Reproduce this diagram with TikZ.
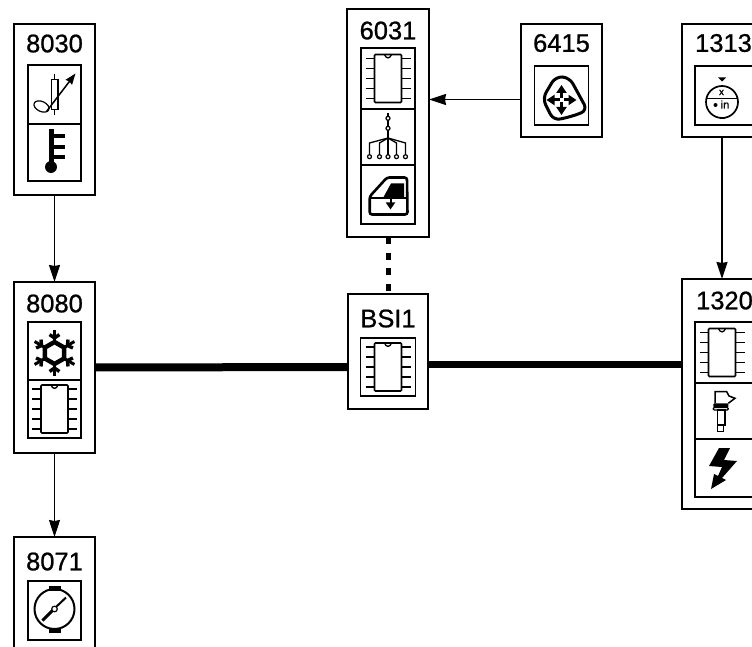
\documentclass[tikz,border=0pt]{standalone}
\usepackage{fontspec}
\setmainfont{Liberation Sans}
\newfontfamily\titlefont[FakeBold=0.8]{Liberation Sans}
\usetikzlibrary{positioning,arrows.meta,calc}
\tikzset{
    unitbox/.style={draw,line width=1.6pt,inner sep=0pt,outer sep=0pt,fill=white},
    unittitle/.style={font=\titlefont\fontsize{25.5}{25.5}\selectfont,inner sep=0pt,outer sep=0pt},
    iconcell/.style={draw,line width=1.5pt,inner sep=0pt,outer sep=0pt,minimum width=53pt},
    sigline/.style={line width=1.4pt,-{Stealth[length=17pt,width=11pt,inset=1pt]}},
    busline/.style={line width=8pt},
    chip/.pic={
        \draw[line width=1.6pt,rounded corners=1pt] (-13.5,-24) rectangle (13.5,24);
        \draw[line width=1.3pt] (-3.5,-24) .. controls (-2,-19.5) and (2,-19.5) .. (3.5,-24);
        \foreach \py in {-20,-10,0,10,20} {
            \draw[line width=1.3pt] (-22.5,\py) -- (-13.5,\py);
            \draw[line width=1.3pt] (13.5,\py) -- (22.5,\py);
        }
    },
    potsensor/.pic={
        \draw[line width=1.3pt] (-3,-15) rectangle (3.5,15);
        \draw[line width=1.5pt] (0,-20) -- (0,-15) (0,15) -- (0,21);
        \draw[line width=1.2pt,rotate around={-25:(-13,12)}] (-13,12) ellipse (8 and 5);
        \draw[line width=1.5pt,-{Stealth[length=11pt,width=8pt,inset=1pt]}] (-8,17) -- (21,-21);
    },
    thermo/.pic={
        \fill (-5.5,-23.5) rectangle (-0.5,14);
        \fill (-3.5,14.5) circle (6pt);
        \foreach \py in {-16.5,-5.5,4.5} {
            \fill (-1,\py-1.8) rectangle (10.5,\py+1.8);
        }
    },
    snowflake/.pic={
        \draw[line width=4.5pt,shift={(0,2)}] (90:11pt) -- (150:11pt) -- (210:11pt) -- (270:11pt) -- (330:11pt) -- (30:11pt) -- cycle;
        \foreach \ang in {30,90,150,210,270,330} {
            \draw[line width=3pt,shift={(0,2)}] (\ang:11pt) -- (\ang:23pt);
            \draw[line width=3.4pt,shift={(0,2)}] (\ang:15pt) -- ++(\ang+55:6pt);
            \draw[line width=3.4pt,shift={(0,2)}] (\ang:15pt) -- ++(\ang-55:6pt);
        }
    },
    gauge/.pic={
        \draw[line width=2pt] (0,-1.5) circle (20pt);
        \fill (-6,-20) rectangle (6,-25);
        \fill (-6,18) rectangle (6,22.5);
        \draw[line width=3pt] (-12,10) -- (-1.5,-0.5);
        \draw[line width=2pt] (1.5,-3.5) -- (11.5,-13);
        \draw[line width=1.2pt,fill=white] (0,-1.5) circle (2.8pt);
    },
    treeicon/.pic={
        \draw[line width=1.3pt] (0,-24) -- (0,1);
        \draw[line width=1.2pt,fill=white] (0,-18.7) circle (2pt) (0,-8.7) circle (2pt);
        \foreach \px in {-18.5,-8.5,0,8.5,17.5} {
            \draw[line width=1.3pt] (0,1) -- (\px,6) -- (\px,18);
            \draw[line width=1.2pt,fill=white] (\px,19.7) circle (2pt);
        }
    },
    windowicon/.pic={
        \draw[line width=2.6pt,rounded corners=2.5pt] (-18.3,2) -- (-1,-17) -- (19,-17) -- (19.5,20) -- (-18.3,20) -- cycle;
        \draw[line width=2.4pt] (-18.3,3.5) -- (19.5,3.5);
        \fill (-5,3.5) -- (3,-11) -- (16,-11) -- (16,3.5) -- cycle;
        \draw[line width=2pt,-{Stealth[length=7pt,width=9pt,inset=0pt]}] (2.5,-2) -- (2.5,15);
    },
    joystick/.pic={
        \draw[line width=3pt,rounded corners=7pt] (-19,3) -- (-6,-19) -- (8,-18) -- (26,15) -- (10,21) -- (-8,25) -- cycle;
        \foreach \ang in {0,90,180,270} {
            \draw[line width=3pt,-{Stealth[length=8pt,width=10pt,inset=0pt]}] (0,4.5) ++(\ang:2pt) -- ++(\ang:13pt);
        }
    },
    levelicon/.pic={
        \draw[line width=1.7pt] (0,6.5) circle (16pt);
        \draw[line width=1.5pt] (-16,3) -- (16,3);
        \node (lx) [inner sep=0pt,font=\titlefont\fontsize{10}{10}\selectfont] at (-0.5,-3) {x};
        \node (lin) [inner sep=0pt,font=\titlefont\fontsize{11}{11}\selectfont] at (3,9) {in};
        \fill (-6.5,9.5) circle (2pt);
        \fill (-4,-18) -- (4,-18) -- (0,-14) -- cycle;
        \fill (-2.5,22) rectangle (2.5,24);
    },
    speedsensor/.pic={
        \draw[line width=1.5pt] (-7,-7.7) -- (-7,-19.3) -- (4.7,-19.3) -- (7,-15) -- (13,-12.7) -- (6.3,-7.7);
        \fill[rounded corners=1pt] (-8.7,-7.7) rectangle (6.3,-3.5);
        \draw[line width=1.3pt,rounded corners=1pt] (-8.7,-3.5) rectangle (6.3,-1);
        \draw[line width=1.4pt] (-4.7,-1) rectangle (3,14);
        \draw[line width=1.4pt] (-4.7,14) rectangle (1.3,20.7);
    },
    lightning/.pic={
        \fill (-3,-20) -- (8,-20) -- (2,-8) -- (15,-7) -- (0,10) -- (4,12) -- (-11,21) -- (-8,6) -- (-4,8) -- (0,-1) -- (-13,-2) -- cycle;
    }
}
\begin{document}
\begin{tikzpicture}[x=1pt,y=-1pt]
    \path[use as bounding box,clip] (0,0) rectangle (752,647);
    \fill[white] (0,0) rectangle (752,647);

    \node (b8030) [unitbox,anchor=north west,minimum width=81pt,minimum height=171pt] at (14,24) {};
    \node (b8080) [unitbox,below=87pt of b8030,minimum width=81pt,minimum height=171pt] {};
    \node (b8071) [unitbox,below=84pt of b8080,minimum width=81pt,minimum height=130pt] {};
    \node (b6031) [unitbox,anchor=north west,minimum width=82pt,minimum height=228pt] at (347,9) {};
    \node (bBSI1) [unitbox,below=57pt of b6031,minimum width=80pt,minimum height=115pt] {};
    \node (b6415) [unitbox,anchor=north west,minimum width=81pt,minimum height=113pt] at (521,24) {};
    \node (b1313) [unitbox,anchor=north west,minimum width=80pt,minimum height=113pt] at (682,24) {};
    \node (b1320) [unitbox,below=142pt of b1313,minimum width=80pt,minimum height=230pt] {};

    \node (t8030) [unittitle,below=10.5pt of b8030.north] {8030};
    \node (t8080) [unittitle,below=12.5pt of b8080.north] {8080};
    \node (t8071) [unittitle,below=15.5pt of b8071.north] {8071};
    \node (t6031) [unittitle,below=12.5pt of b6031.north] {6031};
    \node (tBSI1) [unittitle,below=15.5pt of bBSI1.north] {BSI1};
    \node (t6415) [unittitle,below=10pt of b6415.north] {6415};
    \node (t1313) [unittitle,below=10pt of b1313.north,xshift=1.5pt] {1313};
    \node (t1320) [unittitle,below=12.5pt of b1320.north,xshift=2.5pt] {1320};

    \node (c8030a) [iconcell,below=41pt of b8030.north,minimum height=59pt] {};
    \node (c8030b) [iconcell,below=0pt of c8030a,minimum height=57pt] {};
    \node (c8080a) [iconcell,below=40pt of b8080.north,minimum height=58pt] {};
    \node (c8080b) [iconcell,below=0pt of c8080a,minimum height=58pt] {};
    \node (c8071)  [iconcell,below=44pt of b8071.north,minimum height=59pt] {};
    \node (c6031a) [iconcell,below=39pt of b6031.north,minimum width=54pt,minimum height=61pt] {};
    \node (c6031b) [iconcell,below=0pt of c6031a,minimum width=54pt,minimum height=56pt] {};
    \node (c6031c) [iconcell,below=0pt of c6031b,minimum width=54pt,minimum height=59pt] {};
    \node (cBSI1)  [iconcell,below=44pt of bBSI1.north,minimum width=55pt,minimum height=58pt] {};
    \node (c6415)  [iconcell,below=42pt of b6415.north,minimum width=54pt,minimum height=59pt] {};
    \node (c1313)  [iconcell,below=42pt of b1313.north,xshift=2pt,minimum width=58pt,minimum height=59pt] {};
    \node (c1320a) [iconcell,below=43pt of b1320.north,xshift=2pt,minimum width=58pt,minimum height=61pt] {};
    \node (c1320b) [iconcell,below=0pt of c1320a,minimum width=58pt,minimum height=56pt] {};
    \node (c1320c) [iconcell,below=0pt of c1320b,minimum width=58pt,minimum height=58pt] {};

    \pic at (c8030a) {potsensor};
    \pic at (c8030b) {thermo};
    \pic at (c8080a) {snowflake};
    \pic at (c8080b) {chip};
    \pic at (c8071) {gauge};
    \pic at (c6031a) {chip};
    \pic at (c6031b) {treeicon};
    \pic at (c6031c) {windowicon};
    \pic at (cBSI1) {chip};
    \pic at (c6415) {joystick};
    \pic at ([xshift=-2pt]c1313) {levelicon};
    \pic at ([xshift=-2pt]c1320a) {chip};
    \pic at ([xshift=-2pt]c1320b) {speedsensor};
    \pic at ([xshift=-2pt]c1320c) {lightning};

    \draw[sigline] (b8030) -- (b8080);
    \draw[sigline,line width=0.8pt] (b8080) -- (b8071);
    \draw[sigline] ([yshift=-4pt]c6415 -| b6415.west) -- ([yshift=-4pt]c6415 -| b6031.east);
    \draw[sigline] (b1313) -- (b1320);
    \draw[line width=5pt,dash pattern=on 7pt off 8.5pt] (b6031) -- (bBSI1);
    \draw[busline] (b8080.east) -- (cBSI1 -| bBSI1.west);
    \draw[busline,line width=7pt] ([yshift=3pt]cBSI1 -| bBSI1.east) -- ([yshift=3pt]cBSI1 -| b1320.west);
\end{tikzpicture}
\end{document}
